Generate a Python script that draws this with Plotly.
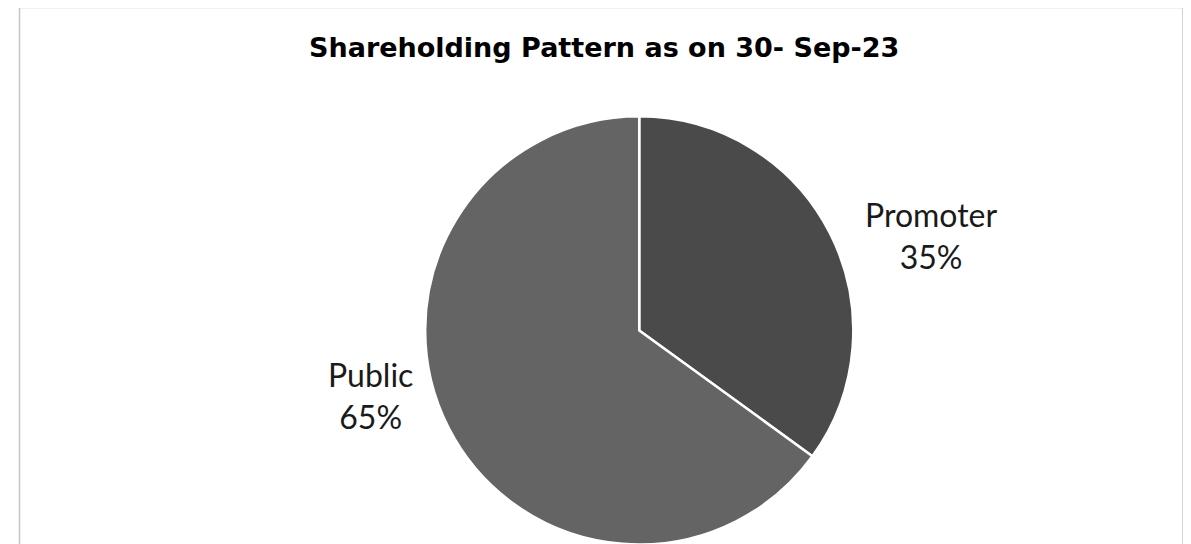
import plotly.graph_objects as go

title_text = "Shareholding Pattern as on 30- Sep-23"
labels = ["Promoter", "Public"]
values = [35, 65]
colors = ["#4a4a4a", "#646464"]

W, H = 1191, 544
OFF = 8  # page body margin offset in the rendered page
LABEL_FONT = "Century Gothic, Lato, sans-serif"
TITLE_FONT = "Century Gothic, DejaVu Sans, sans-serif"

fig = go.Figure()
fig.add_trace(go.Pie(
    labels=labels,
    values=values,
    sort=False,
    direction="clockwise",
    rotation=0,
    marker=dict(colors=colors, line=dict(color="white", width=2.5)),
    textinfo="none",
    hoverinfo="label+percent",
    showlegend=False,
    domain=dict(x=[0.33, 0.73], y=[0.0138, 0.8008]),
))

total = sum(values)
label_pos = {"Promoter": (0.775, 0.581), "Public": (0.3044, 0.2886)}
for lab, val in zip(labels, values):
    px, py = label_pos[lab]
    fig.add_annotation(
        x=px, y=py, xref="paper", yref="paper",
        text=f"{lab}<br>{round(val / total * 100)}%",
        showarrow=False, xanchor="center", yanchor="middle",
        font=dict(family=LABEL_FONT, size=32, color="#1a1a1a"),
        align="center",
    )

fig.add_annotation(
    x=(603.5 - OFF) / W, y=1 - (48 - OFF) / H, xref="paper", yref="paper",
    text=f"<b>{title_text}</b>", showarrow=False,
    xanchor="center", yanchor="middle",
    font=dict(family=TITLE_FONT, size=27, color="#000000"),
)

fig.add_shape(
    type="rect", xref="paper", yref="paper",
    x0=(19.5 - OFF) / W, x1=(1183 - OFF) / W, y0=-0.05, y1=1 + 0.5 / H,
    line=dict(color="#c6c6c6", width=1.5),
    fillcolor="rgba(0,0,0,0)",
)

fig.update_layout(
    width=W, height=H,
    margin=dict(l=0, r=0, t=0, b=0),
    paper_bgcolor="white", plot_bgcolor="white",
)

fig.write_html("out.html")
